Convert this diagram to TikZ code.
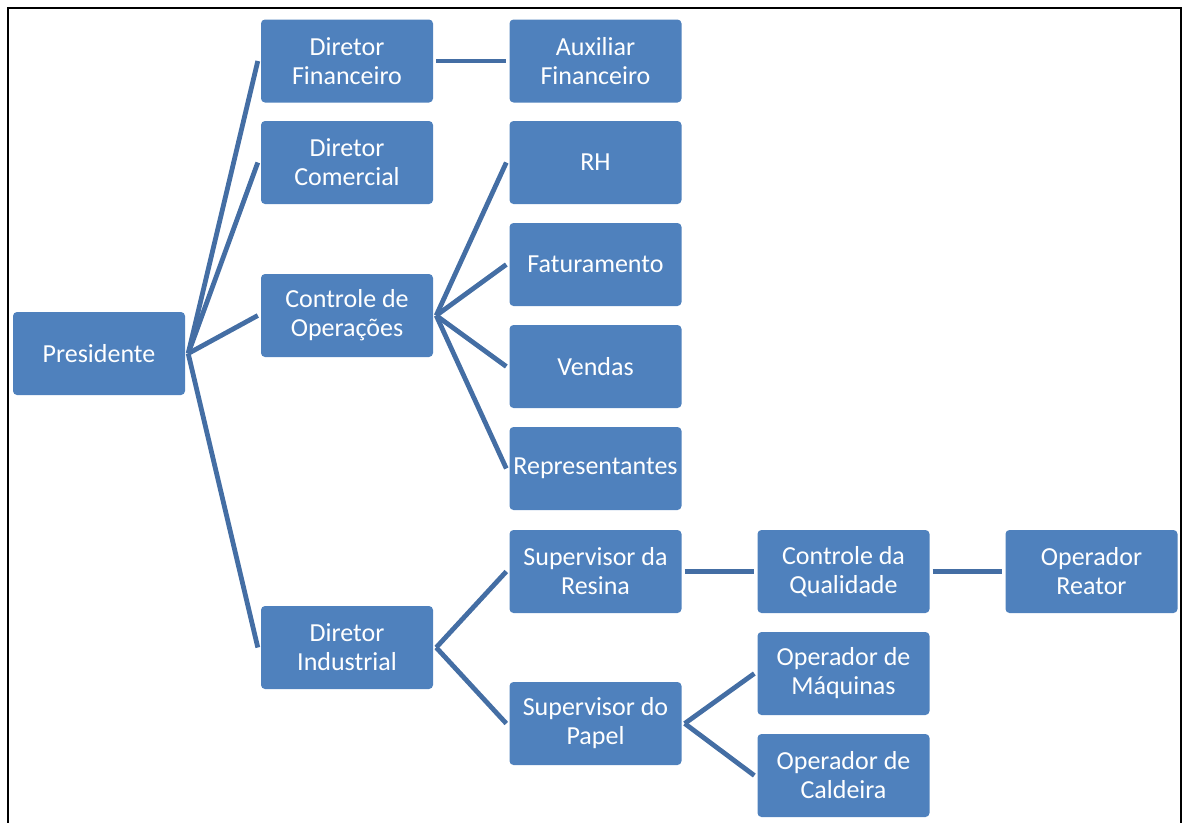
\documentclass[tikz,border=0pt]{standalone}
\usepackage{fontspec}
\setmainfont{Carlito}
\definecolor{boxblue}{RGB}{79,129,189}
\definecolor{linkblue}{RGB}{68,110,164}
\begin{document}
\begin{tikzpicture}[x=1pt,y=-1pt,
  box/.style={draw=none, fill=boxblue, rounded corners=4pt, minimum width=172pt,
    minimum height=83pt, inner sep=1pt, text=white, align=center,
    font=\fontsize{26}{29}\selectfont},
  link/.style={draw=linkblue, line width=4.8pt}]
\useasboundingbox (0,0) rectangle (1183,822);
% frame
\draw[line width=2pt, black] (7.5,823) -- (7.5,8) -- (1180.5,8) -- (1180.5,823);

% boxes
\node[box] (pres) at (99,353.5) {Presidente};
\node[box] (dfin) at (347,61) {Diretor\\Financeiro};
\node[box] (dcom) at (347,162.5) {Diretor\\Comercial};
\node[box] (cop)  at (347,315.5) {Controle de\\Operações};
\node[box] (dind) at (347,647.5) {Diretor\\Industrial};
\node[box] (aux)  at (595.5,61) {Auxiliar\\Financeiro};
\node[box] (rh)   at (595.5,162.5) {RH};
\node[box] (fat)  at (595.5,264.5) {Faturamento};
\node[box] (ven)  at (595.5,366.5) {Vendas};
\node[box] (rep)  at (595.5,468.5) {Representantes};
\node[box] (sres) at (595.5,571.5) {Supervisor da\\Resina};
\node[box] (spap) at (595.5,723.5) {Supervisor do\\Papel};
\node[box] (cq)   at (843.5,571.5) {Controle da\\Qualidade};
\node[box] (omaq) at (843.5,673.5) {Operador de\\Máquinas};
\node[box] (ocal) at (843.5,775.5) {Operador de\\Caldeira};
\node[box] (orea) at (1091.5,571.5) {Operador\\Reator};

% connectors
\foreach \a/\b in {pres/dfin, pres/dcom, pres/cop, pres/dind,
                   dfin/aux,
                   cop/rh, cop/fat, cop/ven, cop/rep,
                   dind/sres, dind/spap,
                   sres/cq, cq/orea,
                   spap/omaq, spap/ocal}
  \draw[link] ([xshift=3pt]\a.east) -- ([xshift=-3pt]\b.west);
\end{tikzpicture}
\end{document}
